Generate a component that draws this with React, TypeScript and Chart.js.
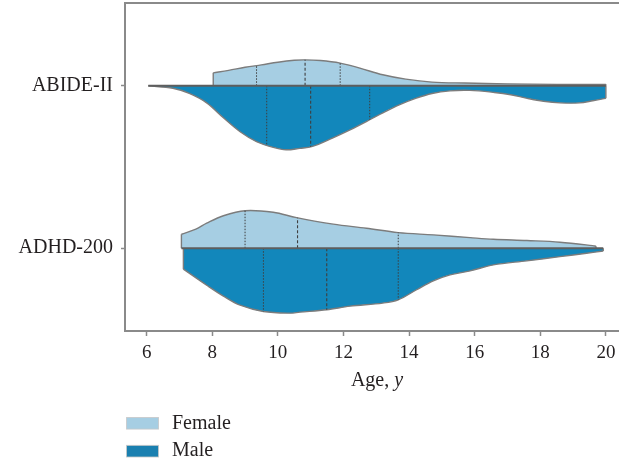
import React, { useEffect, useRef } from "react";
import { Chart, registerables } from "chart.js";

Chart.register(...registerables);

// ---------- data ----------
const categories = ["ABIDE-II", "ADHD-200"];
const categoryPositions = [1, 0];
const xTickValues = [6, 8, 10, 12, 14, 16, 18, 20];
const seriesNames = ["Female", "Male"];
const axisTitle = "Age, ";
const axisTitleItalic = "y";

// ABIDE-II, female (upper half): age and half-width of the density
const abideFemaleAge = [8.03, 8.5, 9.0, 9.5, 10.0, 10.5, 10.8, 11.3, 11.9, 12.5, 13.2, 13.9, 14.7, 15.7, 17.0, 18.5, 20.0];
const abideFemaleWidth = [0.08, 0.095, 0.114, 0.129, 0.145, 0.157, 0.16, 0.156, 0.14, 0.109, 0.068, 0.041, 0.023, 0.017, 0.012, 0.009, 0.009];
// ABIDE-II, male (lower half)
const abideMaleAge = [6.05, 6.8, 7.3, 7.83, 8.34, 8.85, 9.35, 9.86, 10.25, 10.67, 11.03, 11.68, 12.2, 12.8, 13.2, 13.7, 14.2, 14.7, 15.25, 15.85, 16.6, 17.1, 17.6, 18.1, 18.6, 19.2, 19.6, 20.0];
const abideMaleWidth = [0, 0.015, 0.047, 0.105, 0.197, 0.283, 0.344, 0.379, 0.394, 0.385, 0.375, 0.32, 0.271, 0.209, 0.166, 0.117, 0.077, 0.047, 0.031, 0.028, 0.041, 0.055, 0.077, 0.095, 0.105, 0.105, 0.092, 0.077];
// ADHD-200, female
const adhdFemaleAge = [7.06, 7.5, 7.83, 8.34, 9.0, 9.86, 10.57, 11.69, 12.7, 13.67, 14.74, 15.86, 16.57, 17.59, 18.6, 19.6, 19.7];
const adhdFemaleWidth = [0.086, 0.117, 0.154, 0.2, 0.231, 0.221, 0.188, 0.148, 0.123, 0.096, 0.082, 0.065, 0.055, 0.047, 0.037, 0.016, 0.012];
// ADHD-200, male
const adhdMaleAge = [7.12, 7.83, 8.34, 8.85, 9.56, 10.37, 10.67, 11.49, 12.2, 13.2, 13.67, 14.23, 14.74, 15.25, 15.86, 16.57, 17.59, 18.6, 19.41, 19.92];
const adhdMaleWidth = [0.129, 0.228, 0.295, 0.351, 0.39, 0.4, 0.394, 0.379, 0.357, 0.338, 0.318, 0.256, 0.201, 0.164, 0.14, 0.103, 0.078, 0.052, 0.031, 0.017];

// quartiles [Q1, median, Q3]
const abideFemaleQuartiles = [9.35, 10.83, 11.9];
const abideMaleQuartiles = [9.66, 11.0, 12.8];
const adhdFemaleQuartiles = [9.0, 10.6, 13.67];
const adhdMaleQuartiles = [9.56, 11.49, 13.67];

// ---------- styles ----------
const FEMALE_COLOR = "#a6cee3";
const MALE_COLOR = "#1287bb";
const MALE_LEGEND = "#1a80b0";
const OUTLINE = "#7c7c7c";
const CENTER_LINE = "#5e5e5e";
const QLINE = "#3f3f3f";
const AXIS = "#8a8a8a";
const TEXT = "#231f20";
const FONT = "'Liberation Serif', 'DejaVu Serif', serif";

function widthAt(ages: number[], widths: number[], a: number): number {
  for (let i = 0; i < ages.length - 1; i++) {
    if (a >= ages[i] && a <= ages[i + 1]) {
      const t = (a - ages[i]) / (ages[i + 1] - ages[i]);
      return widths[i] + t * (widths[i + 1] - widths[i]);
    }
  }
  return 0;
}

function halfViolin(ages: number[], widths: number[], quart: number[], center: number, sign: number, color: string) {
  const curve = {
    type: "line",
    data: ages.map((a, i) => ({ x: a, y: center + sign * widths[i] })),
    fill: { value: center },
    backgroundColor: color,
    borderColor: OUTLINE,
    borderWidth: 1.4,
    pointRadius: 0,
    tension: 0.35,
    order: 5,
  };
  const n = ages.length - 1;
  const edges = {
    type: "line",
    data: [
      { x: ages[0], y: center },
      { x: ages[0], y: center + sign * widths[0] },
      { x: ages[0], y: null },
      { x: ages[n], y: center + sign * widths[n] },
      { x: ages[n], y: center },
    ],
    borderColor: OUTLINE,
    borderWidth: 1.4,
    pointRadius: 0,
    tension: 0,
    fill: false,
    order: 4,
  };
  const qLine = (q: number) => [
    { x: q, y: center },
    { x: q, y: center + sign * widthAt(ages, widths, q) },
  ];
  const quartLines = {
    type: "line",
    data: [...qLine(quart[0]), { x: quart[0], y: null }, ...qLine(quart[2])],
    borderColor: QLINE,
    borderWidth: 1,
    borderDash: [1.5, 1.5],
    pointRadius: 0,
    tension: 0,
    fill: false,
    order: 3,
  };
  const median = {
    type: "line",
    data: qLine(quart[1]),
    borderColor: QLINE,
    borderWidth: 1.1,
    borderDash: [3, 2],
    pointRadius: 0,
    tension: 0,
    fill: false,
    order: 3,
  };
  return [curve, edges, quartLines, median];
}

function centerLine(center: number, from: number, to: number) {
  return {
    type: "line",
    data: [
      { x: from, y: center },
      { x: to, y: center },
    ],
    borderColor: CENTER_LINE,
    borderWidth: 2,
    pointRadius: 0,
    tension: 0,
    fill: false,
    order: 1,
  };
}

const extrasPlugin = {
  id: "extras",
  afterDraw(chart: any) {
    const { ctx, chartArea } = chart;
    ctx.save();
    // top spine
    ctx.strokeStyle = AXIS;
    ctx.lineWidth = 2;
    ctx.beginPath();
    ctx.moveTo(chartArea.left - 1, chartArea.top);
    ctx.lineTo(chartArea.right, chartArea.top);
    ctx.stroke();

    // axis title with italic y
    ctx.fillStyle = TEXT;
    ctx.textBaseline = "middle";
    ctx.textAlign = "left";
    ctx.font = `20px ${FONT}`;
    const w1 = ctx.measureText(axisTitle).width;
    ctx.font = `italic 20px ${FONT}`;
    const w2 = ctx.measureText(axisTitleItalic).width;
    const cx = 377;
    const ty = 381;
    const start = cx - (w1 + w2) / 2;
    ctx.font = `20px ${FONT}`;
    ctx.fillText(axisTitle, start, ty);
    ctx.font = `italic 20px ${FONT}`;
    ctx.fillText(axisTitleItalic, start + w1, ty);

    // legend
    const colors = [FEMALE_COLOR, MALE_LEGEND];
    const rows = [423.3, 451.2];
    ctx.font = `20px ${FONT}`;
    seriesNames.forEach((name, i) => {
      ctx.fillStyle = colors[i];
      ctx.fillRect(126.5, rows[i] - 5.8, 32, 11.6);
      ctx.strokeStyle = "rgba(200,200,200,0.8)";
      ctx.lineWidth = 1;
      ctx.strokeRect(126.5, rows[i] - 5.8, 32, 11.6);
      ctx.fillStyle = TEXT;
      ctx.fillText(name, 172, rows[i]);
    });
    ctx.restore();
  },
};

export default function App() {
  const canvasRef = useRef<HTMLCanvasElement | null>(null);

  useEffect(() => {
    const canvas = canvasRef.current;
    if (!canvas) return;
    const cA = categoryPositions[0];
    const cB = categoryPositions[1];
    const datasets: any[] = [
      centerLine(cA, abideMaleAge[0], abideFemaleAge[abideFemaleAge.length - 1]),
      centerLine(cB, adhdFemaleAge[0], adhdMaleAge[adhdMaleAge.length - 1]),
      ...halfViolin(abideFemaleAge, abideFemaleWidth, abideFemaleQuartiles, cA, 1, FEMALE_COLOR),
      ...halfViolin(abideMaleAge, abideMaleWidth, abideMaleQuartiles, cA, -1, MALE_COLOR),
      ...halfViolin(adhdFemaleAge, adhdFemaleWidth, adhdFemaleQuartiles, cB, 1, FEMALE_COLOR),
      ...halfViolin(adhdMaleAge, adhdMaleWidth, adhdMaleQuartiles, cB, -1, MALE_COLOR),
    ];

    const chart = new Chart(canvas, {
      type: "line",
      data: { datasets },
      options: {
        animation: false,
        responsive: false,
        devicePixelRatio: 1,
        layout: { padding: { top: 3, left: 0, right: 0, bottom: 0 } },
        plugins: {
          legend: { display: false },
          tooltip: { enabled: false },
          title: { display: false },
        },
        scales: {
          x: {
            type: "linear",
            min: 5.34,
            max: 20.4,
            afterBuildTicks: (s: any) => {
              s.ticks = xTickValues.map((v) => ({ value: v }));
            },
            afterFit: (s: any) => {
              s.height = 131;
              s.paddingLeft = 0;
              s.paddingRight = 0;
            },
            grid: { drawOnChartArea: false, drawTicks: true, tickLength: 5, tickColor: AXIS, tickWidth: 1.5 },
            border: { color: AXIS, width: 2 },
            ticks: {
              color: TEXT,
              font: { family: FONT, size: 19 },
              padding: 6,
              maxRotation: 0,
              autoSkip: false,
            },
          },
          y: {
            type: "linear",
            min: -0.51,
            max: 1.51,
            afterBuildTicks: (s: any) => {
              s.ticks = categoryPositions.map((v) => ({ value: v }));
            },
            afterFit: (s: any) => {
              s.width = 125;
              s.paddingTop = 0;
              s.paddingBottom = 0;
            },
            grid: { drawOnChartArea: false, drawTicks: true, tickLength: 4, tickColor: AXIS, tickWidth: 1.5 },
            border: { color: AXIS, width: 2 },
            ticks: {
              color: TEXT,
              font: { family: FONT, size: 20 },
              padding: 8,
              autoSkip: false,
              callback: (v: any) => categories[categoryPositions.indexOf(Number(v))],
            },
          },
        },
      },
      plugins: [extrasPlugin],
    } as any);

    return () => chart.destroy();
  }, []);

  return (
    <div style={{ position: "absolute", left: 0, top: 0, width: 619, height: 462, background: "#fff" }}>
      <canvas ref={canvasRef} width={619} height={462} />
    </div>
  );
}
